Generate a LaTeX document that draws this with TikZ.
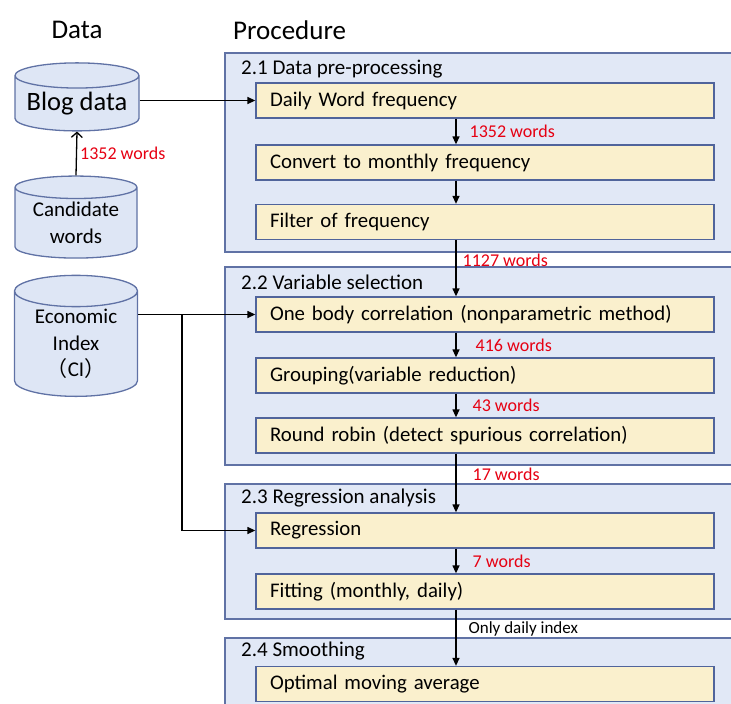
\documentclass[tikz,border=0pt]{standalone}
\usepackage{fontspec}
\setmainfont{Carlito}
\newfontfamily\cjk{Noto Sans CJK SC}
\usetikzlibrary{arrows.meta,shapes.geometric}

\definecolor{panelfill}{RGB}{225,232,246}
\definecolor{paneldraw}{RGB}{96,114,165}
\definecolor{stepfill}{RGB}{250,240,205}
\definecolor{stepdraw}{RGB}{80,100,155}
\definecolor{dbfill}{RGB}{222,230,245}
\definecolor{countred}{RGB}{230,0,18}

\tikzset{
	heading/.style={font=\fontsize{27}{30}\selectfont, inner sep=0pt},
	panel/.style={draw=paneldraw, fill=panelfill, line width=1.3pt},
	paneltitle/.style={anchor=west, inner sep=0pt, font=\fontsize{21}{24}\selectfont},
	stepbox/.style={draw=stepdraw, fill=stepfill, line width=1.3pt, minimum height=35pt,
		text width=430pt, inner xsep=14pt, inner ysep=0pt, align=left,
		font=\fontsize{20.8}{24}\selectfont},
	db/.style={cylinder, shape border rotate=90, draw=paneldraw, fill=dbfill,
		line width=1.3pt, align=center, inner sep=0pt, font=\fontsize{21}{26.5}\selectfont},
	flow/.style={line width=1.3pt, -{Triangle[length=8pt,width=7pt]}},
	feed/.style={line width=1.3pt, -{Straight Barb[length=5pt,width=11pt]}},
	count/.style={midway, anchor=west, text=countred, inner sep=0pt, font=\fontsize{18}{20}\selectfont}
}

\begin{document}
\begin{tikzpicture}[x=1pt,y=-1pt]
		% Frame
		\useasboundingbox (0,0) rectangle (731,704);
		\clip (0,0) rectangle (731,704);
		
		% Draw headings
		\node[heading] (hdata) at (77,30) {Data};
		\node[heading,anchor=west] (hproc) at (233,30) {Procedure};
		
		% Draw panels
		\filldraw[panel] (225,53) rectangle (760,252);
		\filldraw[panel] (225,267) rectangle (760,465);
		\filldraw[panel] (225,484) rectangle (760,619);
		\filldraw[panel] (225,638) rectangle (760,730);
		\node[paneltitle] (t21) at (241,69) {2.1 Data pre-processing};
		\node[paneltitle] (t22) at (241,282) {2.2 Variable selection};
		\node[paneltitle] (t23) at (241,498) {2.3 Regression analysis};
		\node[paneltitle] (t24) at (241,651) {2.4 Smoothing};
		
		% Define spine and branch
		\coordinate (spine) at (456,0);
		\coordinate (branch) at (182,0);
		
		% Draw steps
		\node[stepbox] (daily) at (485,100.5) {Daily Word frequency};
		\node[stepbox] (monthly) at (485,162.5) {Convert to monthly frequency};
		\node[stepbox] (filter) at (485,222) {Filter of frequency};
		\node[stepbox] (onebody) at (485,314.5) {One body correlation (nonparametric method)};
		\node[stepbox] (grouping) at (485,375.5) {Grouping(variable reduction)};
		\node[stepbox] (robin) at (485,435.5) {Round robin (detect spurious correlation)};
		\node[stepbox] (regress) at (485,530.5) {Regression};
		\node[stepbox] (fitting) at (485,591.5) {Fitting (monthly, daily)};
		\node[stepbox] (moving) at (485,684) {Optimal moving average};
		
		% Draw data sources
		\node[db, aspect=0.25, minimum width=124pt, minimum height=68pt] (blog) at (77,103.5) {\fontsize{26.5}{30}\selectfont Blog data};
		\node[db, aspect=0.26, minimum width=122pt, minimum height=82pt] (cand) at (76,223) {Candidate\\words};
		\node[db, aspect=0.38, minimum width=123pt, minimum height=121pt] (econ) at (76,344) {Economic\\Index\\{\cjk （}CI{\cjk ）}};
		
		% Draw connectors
		\draw[feed] (cand.north) -- (blog.south) node[count,xshift=3pt] {1352 words};
		\draw[flow] (blog.east |- daily.west) -- (daily.west);
		\draw[flow] (econ.east |- onebody.west) -- (onebody.west);
		\draw[flow] (branch |- onebody.west) |- (regress.west);
		\draw[flow] (daily.south -| spine) -- (monthly.north -| spine) node[count,xshift=13pt] {1352 words};
		\draw[flow] (monthly.south -| spine) -- (filter.north -| spine);
		\draw[flow] (filter.south -| spine) -- (onebody.north -| spine) node[count,pos=0.35,xshift=6pt] {1127 words};
		\draw[flow] (onebody.south -| spine) -- (grouping.north -| spine) node[count,xshift=19pt] {416 words};
		\draw[flow] (grouping.south -| spine) -- (robin.north -| spine) node[count,xshift=16pt] {43 words};
		\draw[flow] (robin.south -| spine) -- (regress.north -| spine) node[count,pos=0.35,xshift=16pt] {17 words};
		\draw[flow] (regress.south -| spine) -- (fitting.north -| spine) node[count,xshift=16pt] {7 words};
		\draw[flow] (fitting.south -| spine) -- (moving.north -| spine) node[count,pos=0.34,xshift=12pt,text=black,font=\fontsize{17}{20}\selectfont] {Only daily index};
		
	\end{tikzpicture}
\end{document}
